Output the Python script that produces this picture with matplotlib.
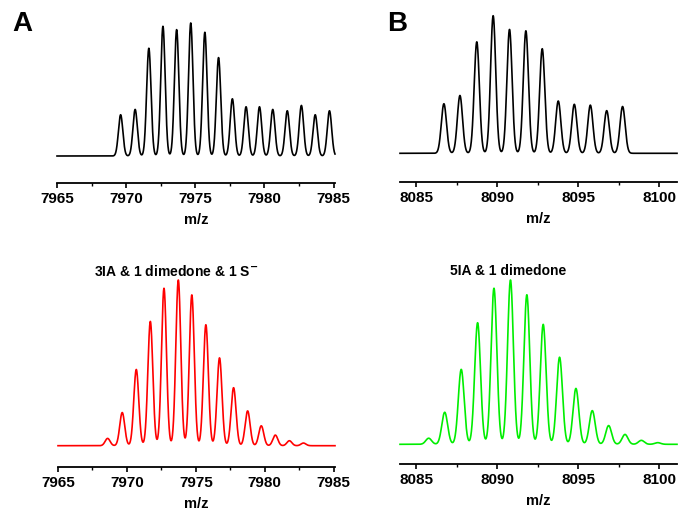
import numpy as np
import matplotlib.pyplot as plt
from matplotlib.ticker import MultipleLocator

plt.rcParams['font.family'] = ['Liberation Sans', 'DejaVu Sans']
plt.rcParams['font.weight'] = 'bold'

# peak centroids (m/z) and relative intensities
exp_a_mz = [7969.6, 7970.65, 7971.64, 7972.66, 7973.65, 7974.67, 7975.69, 7976.68,
            7977.68, 7978.67, 7979.64, 7980.6, 7981.65, 7982.67, 7983.67, 7984.7]
exp_a_int = [0.31, 0.35, 0.81, 0.975, 0.95, 1.0, 0.93, 0.74,
             0.43, 0.37, 0.37, 0.35, 0.34, 0.38, 0.31, 0.34]

exp_b_mz = [8086.71, 8087.7, 8088.74, 8089.75, 8090.76, 8091.77, 8092.78, 8093.77,
            8094.76, 8095.75, 8096.76, 8097.74]
exp_b_int = [0.36, 0.42, 0.81, 1.0, 0.90, 0.89, 0.76, 0.38, 0.356, 0.35, 0.31, 0.34]

sim_a_mz = [7968.6, 7969.66, 7970.68, 7971.7, 7972.69, 7973.73, 7974.71, 7975.73,
            7976.72, 7977.74, 7978.76, 7979.75, 7980.77, 7981.79, 7982.81]
sim_a_int = [0.044, 0.2, 0.46, 0.75, 0.95, 1.0, 0.91, 0.73, 0.53, 0.35, 0.21,
             0.12, 0.064, 0.03, 0.016]

sim_b_mz = [8085.77, 8086.76, 8087.78, 8088.79, 8089.8, 8090.82, 8091.83, 8092.84,
            8093.85, 8094.86, 8095.87, 8096.88, 8097.89, 8098.9, 8099.91]
sim_b_int = [0.037, 0.195, 0.456, 0.74, 0.95, 1.0, 0.91, 0.73, 0.53, 0.34, 0.205,
             0.114, 0.06, 0.024, 0.01]

xlim_a = (7965, 7985.1)
xlim_b = (8084, 8101.1)
ticks_a = [7965, 7970, 7975, 7980, 7985]
ticks_b = [8085, 8090, 8095, 8100]

title_a = '3IA & 1 dimedone & 1 S$^{\\mathbf{-}}$'
title_b = '5IA & 1 dimedone'


def profile(mz, inten, lim, sigma):
    x = np.linspace(lim[0], lim[1], 4000)
    y = np.zeros_like(x)
    for m, h in zip(mz, inten):
        y += h * np.exp(-(x - m) ** 2 / (2 * sigma ** 2))
    return x, y


def style_axis(ax, lim, ticks, ylim):
    ax.set_xlim(*lim)
    ax.set_ylim(*ylim)
    for s in ['left', 'right', 'top']:
        ax.spines[s].set_visible(False)
    ax.spines['bottom'].set_linewidth(1.3)
    ax.set_yticks([])
    ax.set_xticks(ticks)
    ax.xaxis.set_minor_locator(MultipleLocator(2.5))
    ax.tick_params(axis='x', which='major', direction='out', length=3.5, width=1.2,
                   pad=3, labelsize=11)
    ax.tick_params(axis='x', which='minor', direction='out', length=2, width=1.0)
    ax.set_xlabel('m/z', fontsize=10.5, fontweight='bold', labelpad=5)
    ax.patch.set_alpha(0)


fig = plt.figure(figsize=(6.8, 5.11), dpi=100)
W, H = 680.0, 511.0

panels = [
    (57, 335, 183, 10, 156, 133.0, exp_a_mz, exp_a_int, xlim_a, ticks_a, 'black', 0.16),
    (400, 677, 181.7, 10, 153.3, 137.6, exp_b_mz, exp_b_int, xlim_b, ticks_b, 'black', 0.16),
    (58, 335, 466.7, 275, 445.7, 165.7, sim_a_mz, sim_a_int, xlim_a, ticks_a, '#ff0000', 0.18),
    (400, 677, 464.3, 275, 444.3, 164.3, sim_b_mz, sim_b_int, xlim_b, ticks_b, '#00ee00', 0.18),
]

for x0, x1, ybot, ytop, ybase, scale, mz, inten, lim, ticks, color, sig in panels:
    ax = fig.add_axes([x0 / W, 1 - ybot / H, (x1 - x0) / W, (ybot - ytop) / H])
    ylim = (-(ybot - ybase) / scale, (ybase - ytop) / scale)
    x, y = profile(mz, inten, lim, sig)
    ax.plot(x, y, color=color, lw=1.2, clip_on=False)
    style_axis(ax, lim, ticks, ylim)

fig.text(12 / W, 1 - 24 / H, 'A', fontsize=20, fontweight='bold', va='center', ha='left')
fig.text(387 / W, 1 - 24 / H, 'B', fontsize=20, fontweight='bold', va='center', ha='left')
fig.text(176 / W, 1 - 271 / H, title_a, fontsize=10, fontweight='bold', ha='center', va='center')
fig.text(508 / W, 1 - 271 / H, title_b, fontsize=10, fontweight='bold', ha='center', va='center')

fig.savefig('out.png', dpi=100)
